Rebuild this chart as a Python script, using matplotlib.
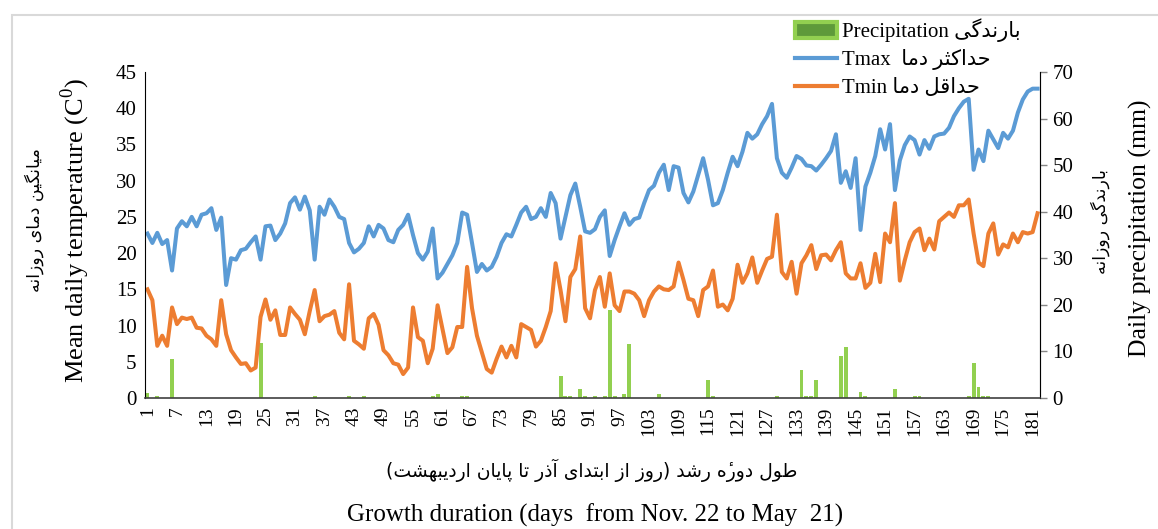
import numpy as np
import matplotlib
matplotlib.use("Agg")
import matplotlib.pyplot as plt
from matplotlib.patches import Patch, Rectangle
from matplotlib.lines import Line2D

plt.rcParams["font.family"] = ["Liberation Serif", "DejaVu Sans"]
plt.rcParams["mathtext.fontset"] = "custom"
plt.rcParams["mathtext.rm"] = "Liberation Serif"

# daily maximum / minimum temperature (C), day 1 .. 182
tmax = [22.7, 21.4, 22.8, 21.25, 21.8, 17.6, 23.4, 24.4, 23.7, 25.0, 23.7, 25.3, 25.5, 26.2, 23.2, 24.9,
        15.6, 19.3, 19.1, 20.4, 20.6, 21.5, 22.3, 19.1, 23.7, 23.8, 21.8, 22.7, 24.1, 26.9, 27.7, 26.0,
        27.8, 25.9, 19.1, 26.4, 25.3, 27.4, 26.4, 25.0, 24.7, 21.4, 20.1, 20.6, 21.4, 23.7, 22.3, 23.9,
        23.4, 21.8, 21.5, 23.2, 23.9, 25.3, 22.5, 20.0, 19.1, 20.2, 23.4, 16.5, 17.3, 18.5,
        19.7, 21.4, 25.6, 25.3, 21.4, 17.4, 18.5, 17.6, 18.1, 19.5, 21.4, 22.6, 22.3, 23.9, 25.6, 26.4,
        24.7, 25.0, 26.2, 25.0, 28.3, 26.9, 22.0, 25.0, 28.0, 29.6, 26.4, 23.0, 22.8, 23.3, 25.0,
        25.9, 19.6, 21.8, 23.7, 25.5, 23.9, 24.7, 24.9, 26.9, 28.7, 29.3, 31.1, 32.2, 28.7, 32.0, 31.8,
        28.3, 27.0, 28.5, 30.8, 33.1, 30.1, 26.6, 26.9, 28.7, 31.1, 33.3, 32.0, 34.0, 36.6,
        35.8, 36.4, 37.8, 38.9, 40.6, 33.1, 31.1, 30.4, 31.8, 33.4, 33.0, 32.1, 32.0, 31.4, 32.2, 33.1,
        34.1, 36.4, 29.7, 31.3, 29.0, 33.1, 23.2, 29.2, 31.1, 33.4, 37.1, 34.3, 37.8, 28.7, 32.8,
        34.9, 36.1, 35.6, 33.6, 35.6, 34.4, 36.1, 36.4, 36.5, 37.3, 38.9, 40.0, 40.9, 41.3, 31.5, 34.3,
        32.7, 36.9, 35.7, 34.5, 36.6, 35.8, 36.9, 39.4, 41.2, 42.3, 42.7, 42.7]

tmin = [15.0, 13.5, 7.2, 8.6, 7.2, 12.5, 10.2, 11.1, 10.9, 11.1, 9.7, 9.6, 8.6, 8.1, 7.2, 13.5,
        8.8, 6.6, 5.6, 4.7, 4.8, 3.8, 4.2, 11.2, 13.6, 10.8, 12.1, 8.7, 8.7, 12.5, 11.6, 10.8,
        8.8, 12.0, 14.9, 10.6, 11.3, 11.5, 12.0, 9.0, 8.1, 15.7, 7.9, 7.4, 6.8, 11.0, 11.6, 10.1,
        6.6, 5.9, 4.8, 4.6, 3.3, 4.2, 12.5, 8.4, 7.9, 4.8, 6.8, 12.8, 9.5, 6.2,
        7.0, 9.8, 9.8, 18.1, 12.4, 8.6, 6.3, 4.0, 3.5, 5.4, 7.1, 5.6, 7.2, 5.6, 10.2, 9.8,
        9.4, 7.1, 7.9, 9.8, 12.0, 18.6, 14.9, 10.6, 16.7, 17.8, 22.3, 12.4, 11.0, 14.9, 16.7,
        12.6, 17.2, 12.8, 12.0, 14.7, 14.7, 14.4, 13.5, 11.3, 13.5, 14.7, 15.4, 15.0, 14.9, 15.4, 18.7,
        16.3, 13.7, 13.5, 11.3, 14.9, 15.4, 17.6, 12.6, 12.9, 12.1, 13.7, 18.4, 15.9, 17.2,
        19.4, 15.9, 17.6, 19.2, 19.5, 25.3, 17.4, 16.5, 18.8, 14.4, 18.6, 19.7, 21.1, 17.8, 19.7, 19.8,
        19.0, 20.4, 21.5, 17.2, 16.5, 16.5, 18.6, 15.2, 15.9, 19.9, 16.0, 22.7, 21.5, 26.9, 16.2,
        19.0, 21.5, 22.9, 23.4, 20.4, 22.0, 20.5, 24.4, 25.0, 25.6, 25.0, 26.6, 26.6, 27.4, 22.7, 18.7,
        18.2, 22.7, 24.1, 19.8, 21.2, 20.8, 22.7, 21.5, 22.9, 22.7, 22.9, 25.5]

# rainy days and daily precipitation (mm), all other days are 0
rain_days = [1, 3, 6, 24, 35, 42, 45, 59, 60, 65, 66, 85, 86, 87, 89, 90, 92, 94, 95, 96, 98, 99,
             105, 115, 116, 129, 134, 135, 136, 137, 142, 143, 146, 147, 153, 157, 158, 168, 169,
             170, 171, 172]
rain_mm = [1.1, 0.5, 8.4, 11.9, 0.4, 0.5, 0.4, 0.5, 0.8, 0.5, 0.5, 4.8, 0.5, 0.5, 1.9, 0.5, 0.5,
           0.5, 18.9, 0.4, 0.9, 11.7, 0.8, 3.8, 0.5, 0.4, 6.0, 0.5, 0.5, 3.8, 9.1, 11.0, 1.2, 0.5,
           1.9, 0.5, 0.5, 0.5, 7.6, 2.4, 0.5, 0.5]

tick_days = list(range(1, 182, 6))

# persian letters -> (isolated, final, initial, medial) presentation forms
FA = {
    "ا": ("\uFE8D", "\uFE8E", None, None),
    "آ": ("\uFE81", "\uFE82", None, None),
    "ب": ("\uFE8F", "\uFE90", "\uFE91", "\uFE92"),
    "پ": ("\uFB56", "\uFB57", "\uFB58", "\uFB59"),
    "ت": ("\uFE95", "\uFE96", "\uFE97", "\uFE98"),
    "ث": ("\uFE99", "\uFE9A", "\uFE9B", "\uFE9C"),
    "ح": ("\uFEA1", "\uFEA2", "\uFEA3", "\uFEA4"),
    "د": ("\uFEA9", "\uFEAA", None, None),
    "ذ": ("\uFEAB", "\uFEAC", None, None),
    "ر": ("\uFEAD", "\uFEAE", None, None),
    "ز": ("\uFEAF", "\uFEB0", None, None),
    "ش": ("\uFEB5", "\uFEB6", "\uFEB7", "\uFEB8"),
    "ط": ("\uFEC1", "\uFEC2", "\uFEC3", "\uFEC4"),
    "ق": ("\uFED5", "\uFED6", "\uFED7", "\uFED8"),
    "ک": ("\uFB8E", "\uFB8F", "\uFB90", "\uFB91"),
    "گ": ("\uFB92", "\uFB93", "\uFB94", "\uFB95"),
    "ل": ("\uFEDD", "\uFEDE", "\uFEDF", "\uFEE0"),
    "م": ("\uFEE1", "\uFEE2", "\uFEE3", "\uFEE4"),
    "ن": ("\uFEE5", "\uFEE6", "\uFEE7", "\uFEE8"),
    "ه": ("\uFEE9", "\uFEEA", "\uFEEB", "\uFEEC"),
    # heh with hamza above: heh glyph followed by the combining hamza
    "ۀ": ("\uFEE9\u0654", "\uFEEA\u0654", None, None),
    "و": ("\uFEED", "\uFEEE", None, None),
    "ی": ("\uFBFC", "\uFBFD", "\uFBFE", "\uFBFF"),
}


def fa(s):
    # join letters and put them in visual (left to right) order
    out = []
    for i, ch in enumerate(s):
        f = FA.get(ch)
        if f is None:
            out.append(ch)
            continue
        prev = FA.get(s[i - 1]) if i > 0 else None
        nxt = FA.get(s[i + 1]) if i + 1 < len(s) else None
        jp = prev is not None and prev[2] is not None
        jn = f[2] is not None and nxt is not None
        if jp and jn:
            out.append(f[3])
        elif jp:
            out.append(f[1])
        elif jn:
            out.append(f[2])
        else:
            out.append(f[0])
    return "".join(reversed(out)).translate(str.maketrans("()", ")("))


days = np.arange(1, len(tmax) + 1)
precip = np.zeros(len(tmax))
precip[np.array(rain_days) - 1] = rain_mm

blue = "#5B9BD5"
orange = "#ED7D31"
green = "#92D050"

fig = plt.figure(figsize=(11.58, 5.29), dpi=100)
ax = fig.add_axes([145 / 1158, 1 - 398 / 529, 895 / 1158, 326 / 529])
ax2 = ax.twinx()

ax2.bar(days, precip, width=0.8, color=green, zorder=1)
ax.plot(days, tmax, color=blue, lw=2.9, solid_joinstyle="round")
ax.plot(days, tmin, color=orange, lw=2.9, solid_joinstyle="round")
ax.set_zorder(ax2.get_zorder() + 1)
ax.patch.set_visible(False)

ax.set_xlim(0.5, 182.5)
ax.set_ylim(0, 45)
ax2.set_ylim(0, 70)
ax.set_yticks(range(0, 46, 5))
ax2.set_yticks(range(0, 71, 10))
ax.set_xticks(tick_days)
ax.set_xticklabels([str(d) for d in tick_days], rotation=90)

ax.tick_params(axis="x", length=0, labelsize=14, pad=6)
ax.tick_params(axis="y", length=0, labelsize=15, pad=6)
ax2.tick_params(axis="y", length=5, width=1, color="#868686", labelsize=15, pad=4)

for a in (ax, ax2):
    a.spines["top"].set_visible(False)
ax.spines["left"].set_color("black")
ax.spines["bottom"].set_color("#404040")
ax.spines["bottom"].set_linewidth(1.2)
ax2.spines["right"].set_color("#868686")
ax2.spines["left"].set_visible(False)
ax2.spines["bottom"].set_visible(False)

# axis titles, english and persian
fig.text(75 / 1158, 1 - 231 / 529, r"Mean daily temperature (C$^{0}$)", rotation=90,
         fontsize=19, ha="center", va="center")
fig.text(34 / 1158, 1 - 220 / 529, fa("میانگین دمای روزانه"), rotation=90,
         fontsize=12.5, ha="center", va="center", family="DejaVu Sans")
fig.text(1140 / 1158, 1 - 228 / 529, "Daily precipitation (mm)", rotation=90,
         fontsize=18.5, ha="center", va="center")
fig.text(1100 / 1158, 1 - 222 / 529, fa("بارندگی روزانه"), rotation=90,
         fontsize=12.5, ha="center", va="center", family="DejaVu Sans")
fig.text(592 / 1158, 1 - 470 / 529, fa("طول دورۀ رشد (روز از ابتدای آذر تا پایان اردیبهشت)"),
         fontsize=13.5, ha="center", va="center", family="DejaVu Sans")
fig.text(595 / 1158, 1 - 515 / 529, "Growth duration (days  from Nov. 22 to May  21)",
         fontsize=18, ha="center", va="center")

handles = [Patch(facecolor="#5E9A3A", edgecolor=green, linewidth=3),
           Line2D([], [], color=blue, lw=3),
           Line2D([], [], color=orange, lw=3)]
labels = ["Precipitation " + fa("بارندگی"),
          "Tmax  " + fa("حداکثر دما"),
          "Tmin " + fa("حداقل دما")]
fig.legend(handles, labels, loc="upper left", bbox_to_anchor=(785 / 1158, 1 - 8 / 529),
           frameon=False, fontsize=15, handlelength=2.0, handleheight=0.85,
           handletextpad=0.25, labelspacing=0.35, borderpad=0)

fig.add_artist(Rectangle((12 / 1158, -0.05), 1.2, 1 - 15 / 529 + 0.05, transform=fig.transFigure,
                         fill=False, edgecolor="#D9D9D9", lw=1.5))

fig.savefig("out.png", dpi=100)
